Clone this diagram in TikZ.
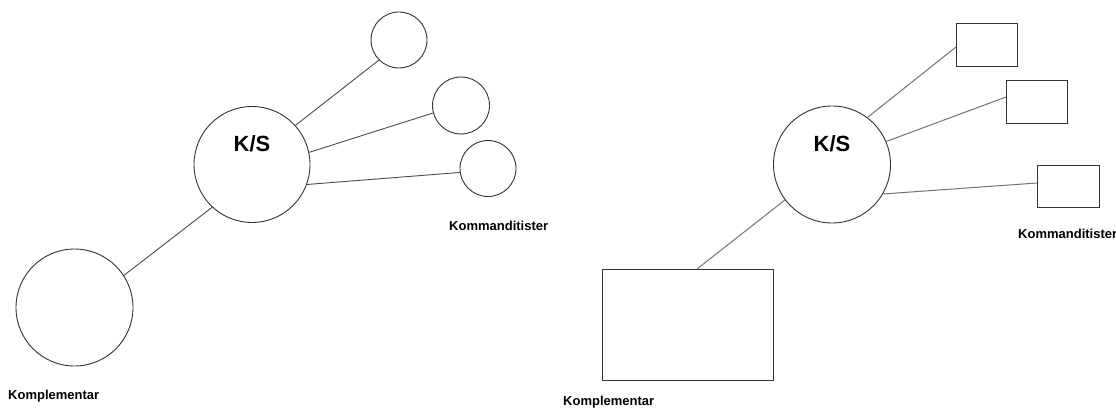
\documentclass[tikz,border=0pt]{standalone}
\usepackage{fontspec}
\setmainfont{Liberation Sans}
\begin{document}
\begin{tikzpicture}[x=1pt,y=-1pt,
  circ/.style={circle,draw=black!80,line width=0.9pt,inner sep=0pt,minimum size=#1},
  box/.style={rectangle,draw=black!80,line width=0.9pt,inner sep=0pt},
  conn/.style={draw=black!70,line width=0.9pt},
  conng/.style={draw=black!55,line width=1pt},
  lbl/.style={font=\bfseries\fontsize{13}{15}\selectfont,inner sep=0pt,anchor=base west},
  kslbl/.style={font=\bfseries\fontsize{22}{25}\selectfont,inner sep=0pt,anchor=base}]
\useasboundingbox[fill=white] (0,0) rectangle (1116,409);
% left
\node[circ=116pt] (ks1) at (252,164.5) {};
\node[kslbl] (kst1) at (252,152) {K/S};
\node[circ=56pt] (a1) at (399,40) {};
\node[circ=57pt] (a2) at (461,105.5) {};
\node[circ=56pt] (a3) at (488,168.5) {};
\node[circ=117pt] (k1) at (74.5,307.5) {};
\node[lbl] (kom1) at (449,230) {Kommanditister};
\node[lbl] (kpl1) at (8,399) {Komplementar};
\draw[conn] (ks1.42) -- (a1.225);
\draw[conn] (ks1.12.6) -- (a2.195);
\draw[conn] (ks1.-20) -- (a3.188);
\draw[conn] (ks1.227) -- (k1.33);
% right
\node[circ=117pt] (ks2) at (832,164.5) {};
\node[kslbl] (kst2) at (832,152) {K/S};
\node[box,minimum width=61pt,minimum height=43pt] (b1) at (986.5,44.5) {};
\node[box,minimum width=61pt,minimum height=43pt] (b2) at (1036.5,101.5) {};
\node[box,minimum width=62pt,minimum height=42pt] (b3) at (1068,186) {};
\node[box,minimum width=171pt,minimum height=111pt] (b4) at (687.5,324.5) {};
\node[lbl] (kom2) at (1018,238) {Kommanditister};
\node[lbl] (kpl2) at (563,405.5) {Komplementar};
\coordinate (b1in) at (956,47);
\coordinate (b2in) at (1006,97);
\coordinate (b3in) at (1037,183);
\coordinate (b4in) at (697,269);
\draw[conng] (ks2.53) -- (b1in);
\draw[conng] (ks2.23) -- (b2in);
\draw[conng] (ks2.-30) -- (b3in);
\draw[conng] (ks2.217) -- (b4in);
\end{tikzpicture}
\end{document}
